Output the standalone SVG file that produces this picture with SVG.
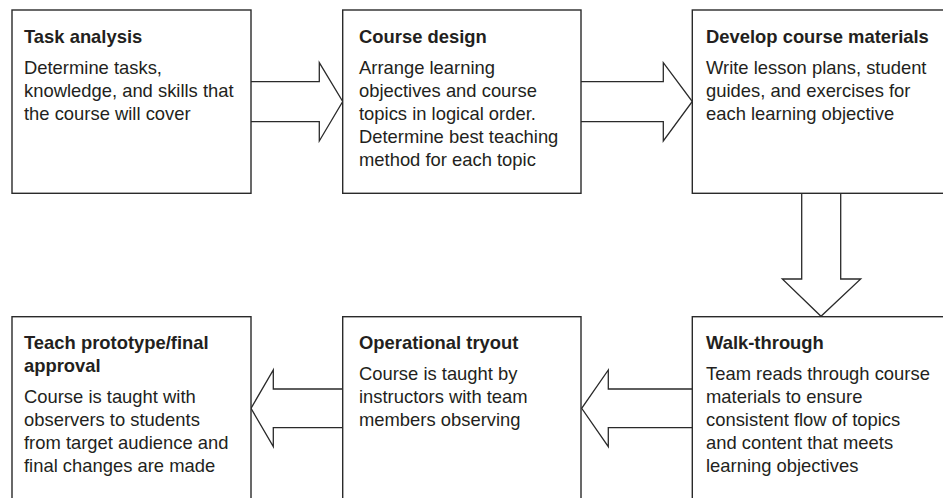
<svg xmlns="http://www.w3.org/2000/svg" width="943" height="498" viewBox="0 0 943 498">
<style>
.box{fill:#fff;stroke:#2a2a2a;stroke-width:1.4}
.arr{fill:#fff;stroke:#2a2a2a;stroke-width:1.3;stroke-linejoin:miter}
.t{font-family:"Liberation Sans",Arial,sans-serif;font-size:18.4px;font-weight:bold;fill:#231f20}
.b{font-family:"Liberation Sans",Arial,sans-serif;font-size:18.4px;fill:#231f20}
</style>
<rect width="943" height="498" fill="#fff"/>
<g id="connectors">
<path class="arr" d="M251,81.7 H319.3 V62.7 L342.7,101.5 L319.3,141 V121.7 H251"/>
<path class="arr" d="M581,81.7 H663.3 V62.7 L692.3,101.5 L663.3,141 V121.7 H581"/>
<path class="arr" d="M801.7,193.3 V279 H782.3 L821,316.3 L860.7,279 H840.7 V193.3"/>
<path class="arr" d="M692.3,389 H608.3 V370 L581.7,408.3 L608.3,446.7 V427.7 H692.3"/>
<path class="arr" d="M342.7,389 H273.3 V370 L251,408.3 L273.3,446.7 V427.7 H342.7"/>
</g>
<g id="task-analysis">
<rect class="box" x="12" y="10" width="239" height="183.3"/>
<text class="t" x="24" y="43">Task analysis</text>
<text class="b" x="24" y="74">Determine tasks,</text>
<text class="b" x="24" y="97">knowledge, and skills that</text>
<text class="b" x="24" y="120">the course will cover</text>
</g>
<g id="course-design">
<rect class="box" x="342.7" y="10" width="238.3" height="183.3"/>
<text class="t" x="359" y="43">Course design</text>
<text class="b" x="359" y="74">Arrange learning</text>
<text class="b" x="359" y="97">objectives and course</text>
<text class="b" x="359" y="120">topics in logical order.</text>
<text class="b" x="359" y="143">Determine best teaching</text>
<text class="b" x="359" y="166">method for each topic</text>
</g>
<g id="develop-materials">
<rect class="box" x="692.3" y="10" width="260" height="183.3"/>
<text class="t" x="706" y="43">Develop course materials</text>
<text class="b" x="706" y="74">Write lesson plans, student</text>
<text class="b" x="706" y="97">guides, and exercises for</text>
<text class="b" x="706" y="120">each learning objective</text>
</g>
<g id="walk-through">
<rect class="box" x="692.3" y="316.7" width="260" height="200"/>
<text class="t" x="706" y="349">Walk-through</text>
<text class="b" x="706" y="380">Team reads through course</text>
<text class="b" x="706" y="403">materials to ensure</text>
<text class="b" x="706" y="426">consistent flow of topics</text>
<text class="b" x="706" y="449">and content that meets</text>
<text class="b" x="706" y="472">learning objectives</text>
</g>
<g id="operational-tryout">
<rect class="box" x="342.7" y="316.7" width="238.3" height="200"/>
<text class="t" x="359" y="349">Operational tryout</text>
<text class="b" x="359" y="380">Course is taught by</text>
<text class="b" x="359" y="403">instructors with team</text>
<text class="b" x="359" y="426">members observing</text>
</g>
<g id="teach-prototype">
<rect class="box" x="12" y="316.7" width="239" height="200"/>
<text class="t" x="24" y="349">Teach prototype/final</text>
<text class="t" x="24" y="372">approval</text>
<text class="b" x="24" y="403">Course is taught with</text>
<text class="b" x="24" y="426">observers to students</text>
<text class="b" x="24" y="449">from target audience and</text>
<text class="b" x="24" y="472">final changes are made</text>
</g>
</svg>
